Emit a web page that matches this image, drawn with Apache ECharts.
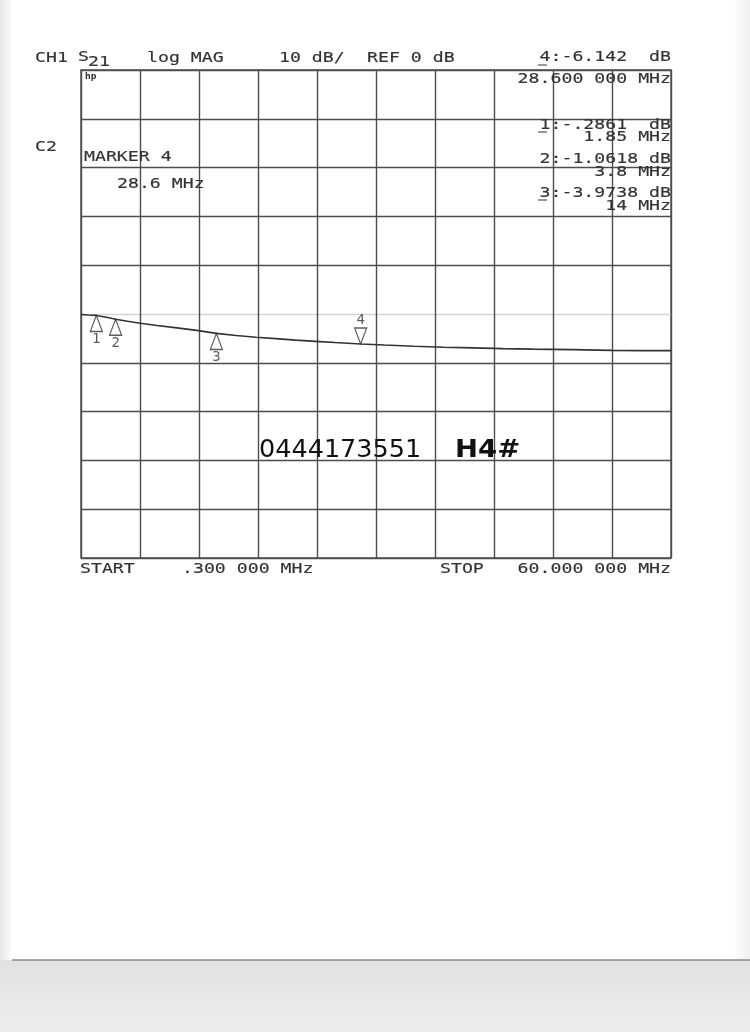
<!DOCTYPE html>
<html><head><meta charset="utf-8">
<script src="https://cdn.jsdelivr.net/npm/echarts@6/dist/echarts.min.js"></script>
<style>html,body{margin:0;padding:0;background:#fff}#c{width:750px;height:1032px}</style>
</head><body><div id="c"></div><script>
// ---- data ----
const freqMHz = [0.3, 1, 1.85, 3, 3.8, 5, 6.3, 8, 10, 12, 14, 16, 18, 20, 22, 24, 26, 28.6, 31, 34, 37, 40, 43, 46, 50, 54, 57, 60];
const s21dB   = [-0.1, -0.2, -0.29, -0.7, -1.06, -1.5, -1.9, -2.35, -2.85, -3.35, -3.97, -4.4, -4.75, -5.05, -5.35, -5.6, -5.85, -6.14, -6.35, -6.6, -6.8, -6.95, -7.1, -7.2, -7.3, -7.45, -7.5, -7.5];
const markerNames = ['1', '2', '3'];
const markerFreq  = [1.85, 3.8, 14];
const markerDB    = [-0.2861, -1.0618, -3.9738];
const activeName = ['4'];
const activeFreq = [28.6];
const activeDB   = [-6.142];
const xRange = [0.3, 60];
const yRange = [-50, 50];
const yStep = 10;
const headerTexts = ['CH1', 'S', '21', 'log MAG', '10 dB/', 'REF 0 dB'];
const readoutTexts = ['4:-6.142  dB', '28.600 000 MHz'];
const markerListTexts = ['1:-.2861  dB', '1.85 MHz', '2:-1.0618 dB', '3.8 MHz', '3:-3.9738 dB', '14 MHz'];
const leftTexts = ['C2', 'MARKER 4', '28.6 MHz'];
const footerTexts = ['START', '.300 000 MHz', 'STOP', '60.000 000 MHz'];
const handTexts = ['0444173551', 'H4#'];
const logoText = ['hp'];

// ---- styling / layout ----
const INK = '#333';
const GRID = '#4d4d4d';
const MONO = '14px "DejaVu Sans Mono"';
function mono(text, x, y, align, extra) {
  return Object.assign({
    type: 'text', x: x, y: y, scaleX: 1.3, z: 20,
    style: { text: text, font: MONO, fill: INK, stroke: INK, lineWidth: 0.15, align: align || 'left', verticalAlign: 'middle' }
  }, extra || {});
}
function uline(x1, x2, y) {
  return { type: 'line', z: 20, shape: { x1: x1, y1: y, x2: x2, y2: y }, style: { stroke: INK, lineWidth: 1 } };
}

const graphics = [
  // paper edges
  { type: 'rect', z: -10, shape: { x: 0, y: 960, width: 750, height: 72 },
    style: { fill: new echarts.graphic.LinearGradient(0, 0, 0, 1, [{ offset: 0, color: '#e2e2e2' }, { offset: 1, color: '#ededed' }]) } },
  { type: 'line', z: -9, shape: { x1: 12, y1: 960, x2: 750, y2: 960 }, style: { stroke: '#8a8a8a', lineWidth: 1.5 } },
  { type: 'rect', z: -10, shape: { x: 0, y: 0, width: 12, height: 960 },
    style: { fill: new echarts.graphic.LinearGradient(0, 0, 1, 0, [{ offset: 0, color: '#e6e6e6' }, { offset: 1, color: '#fbfbfb' }]) } },
  { type: 'rect', z: -10, shape: { x: 735, y: 0, width: 15, height: 960 },
    style: { fill: new echarts.graphic.LinearGradient(0, 0, 1, 0, [{ offset: 0, color: '#fdfdfd' }, { offset: 1, color: '#f0f0f0' }]) } },
  // header
  mono(headerTexts[0], 35, 58),
  mono(headerTexts[1], 78, 57),
  mono(headerTexts[2], 88, 62),
  mono(headerTexts[3], 147, 58),
  mono(headerTexts[4], 279, 58),
  mono(headerTexts[5], 367, 58),
  mono(readoutTexts[0], 671, 57, 'right'),
  uline(538, 547, 65),
  mono(readoutTexts[1], 671, 79, 'right'),
  // marker list
  mono(markerListTexts[0], 671, 125, 'right'),
  uline(538, 547, 132),
  mono(markerListTexts[1], 671, 137, 'right'),
  mono(markerListTexts[2], 671, 159, 'right'),
  mono(markerListTexts[3], 671, 172, 'right'),
  mono(markerListTexts[4], 671, 193, 'right'),
  uline(538, 547, 200),
  mono(markerListTexts[5], 671, 206, 'right'),
  // left
  mono(leftTexts[0], 35, 147),
  mono(leftTexts[1], 84, 157),
  mono(leftTexts[2], 117, 184),
  // footer
  mono(footerTexts[0], 80, 569),
  mono(footerTexts[1], 182, 569),
  mono(footerTexts[2], 440, 569),
  mono(footerTexts[3], 671, 569, 'right'),
  // logo
  { type: 'text', x: 85, y: 77, z: 20, style: { text: logoText[0], font: 'bold 8px "DejaVu Sans"', fill: INK, verticalAlign: 'middle' } },
  // handwriting
  { type: 'text', x: 259, y: 450, z: 20, scaleX: 1.02, style: { text: handTexts[0], font: '25px "DejaVu Sans"', fill: '#111', verticalAlign: 'middle' } },
  { type: 'text', x: 455, y: 450, z: 20, scaleX: 1.1, style: { text: handTexts[1], font: 'bold 25px "DejaVu Sans"', fill: '#111', verticalAlign: 'middle' } }
];

const splitColors = [];
for (let v = yRange[0]; v <= yRange[1]; v += yStep) splitColors.push(v === 0 ? '#d4d4d4' : GRID);

const chart = echarts.init(document.getElementById('c'), null, { renderer: 'canvas' });
chart.setOption({
  backgroundColor: '#ffffff',
  animation: false,
  grid: { left: 81, top: 70, width: 590, height: 488, show: true, borderColor: GRID, borderWidth: 1.4, backgroundColor: 'transparent' },
  xAxis: [
    { type: 'value', min: xRange[0], max: xRange[1], axisLine: { show: false }, axisTick: { show: false },
      axisLabel: { show: false }, splitLine: { show: false } },
    { type: 'value', position: 'top', min: 0, max: 10, interval: 1, axisLine: { show: false }, axisTick: { show: false },
      axisLabel: { show: false }, splitLine: { show: true, lineStyle: { color: GRID, width: 1.4 } } }
  ],
  yAxis: { type: 'value', min: yRange[0], max: yRange[1], interval: yStep, axisLine: { show: false }, axisTick: { show: false },
    axisLabel: { show: false }, splitLine: { show: true, lineStyle: { color: splitColors, width: 1.4 } } },
  series: [
    { type: 'line', xAxisIndex: 0, data: freqMHz.map((f, i) => [f, s21dB[i]]), showSymbol: false, symbol: 'none',
      lineStyle: { color: '#333', width: 1.6 }, z: 5 },
    { type: 'scatter', xAxisIndex: 0, z: 6,
      data: markerFreq.map((f, i) => ({ value: [f, markerDB[i]], name: markerNames[i] })),
      symbol: 'path://M6,0 L12,16 L0,16 Z', symbolSize: [12, 16], symbolOffset: [0, 8],
      itemStyle: { color: 'rgba(255,255,255,0)', borderColor: '#333', borderWidth: 1.3 },
      label: { show: true, position: 'bottom', distance: 0, formatter: p => p.name, color: INK, fontFamily: 'DejaVu Sans Mono', fontSize: 14 } },
    { type: 'scatter', xAxisIndex: 0, z: 6,
      data: activeFreq.map((f, i) => ({ value: [f, activeDB[i]], name: activeName[i] })),
      symbol: 'path://M0,0 L12,0 L6,16 Z', symbolSize: [12, 16], symbolOffset: [0, -8],
      itemStyle: { color: 'rgba(255,255,255,0)', borderColor: '#333', borderWidth: 1.3 },
      label: { show: true, position: 'top', distance: 0, formatter: p => p.name, color: INK, fontFamily: 'DejaVu Sans Mono', fontSize: 14 } }
  ],
  graphic: graphics
});
</script></body></html>
